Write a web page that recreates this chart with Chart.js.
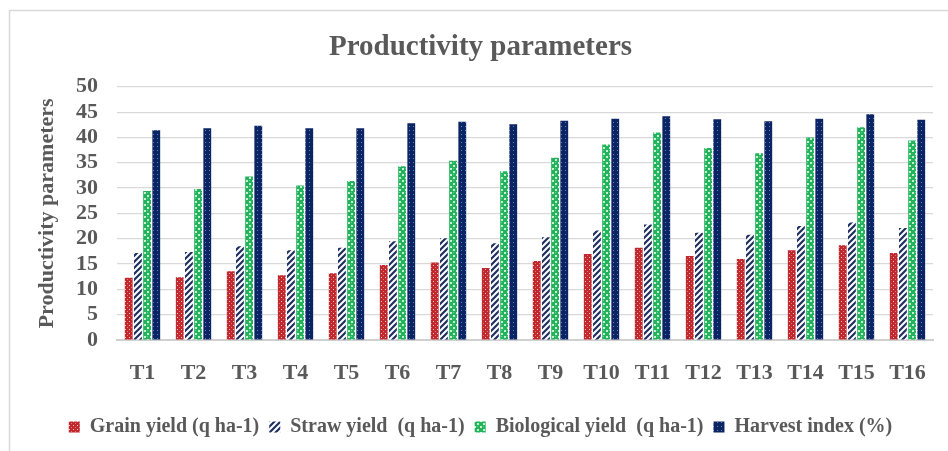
<!DOCTYPE html>
<html>
<head>
<meta charset="utf-8">
<script src="https://cdn.jsdelivr.net/npm/chart.js@4.4.1/dist/chart.umd.min.js"></script>
<style>
  html, body { margin: 0; padding: 0; background: #fff; }
  #wrap { width: 948px; height: 451px; }
</style>
</head>
<body>
<div id="wrap"><canvas id="myChart" width="948" height="451"></canvas></div>
<script>
// data
var treatments = ['T1','T2','T3','T4','T5','T6','T7','T8','T9','T10','T11','T12','T13','T14','T15','T16'];
var grainYield = [12.3, 12.4, 13.6, 12.8, 13.2, 14.8, 15.3, 14.2, 15.6, 17.0, 18.2, 16.6, 16.0, 17.7, 18.7, 17.2];
var strawYield = [17.2, 17.4, 18.5, 17.7, 18.2, 19.5, 20.1, 19.1, 20.3, 21.6, 22.8, 21.2, 20.8, 22.5, 23.2, 22.1];
var bioYield   = [29.4, 29.8, 32.3, 30.5, 31.4, 34.3, 35.4, 33.3, 36.0, 38.6, 41.0, 37.9, 36.9, 40.0, 42.0, 39.4];
var harvestIdx = [41.4, 41.8, 42.3, 41.8, 41.8, 42.8, 43.1, 42.6, 43.3, 43.7, 44.2, 43.6, 43.2, 43.7, 44.6, 43.5];
var yTicks = [0, 5, 10, 15, 20, 25, 30, 35, 40, 45, 50];

var grey = '#595959';
var serif = "'Liberation Serif', 'Times New Roman', serif";

// little fill patterns like the office-style bars
function makePattern(size, draw) {
    var c = document.createElement('canvas');
    c.width = size; c.height = size;
    var g = c.getContext('2d');
    draw(g);
    return document.getElementById('myChart').getContext('2d').createPattern(c, 'repeat');
}

var redDots = makePattern(4, function (g) {
    g.fillStyle = '#C0282D'; g.fillRect(0, 0, 4, 4);
    g.fillStyle = 'rgba(255,220,220,0.9)'; g.fillRect(1, 1, 1, 1);
    g.fillStyle = 'rgba(255,200,200,0.5)'; g.fillRect(3, 3, 1, 1);
});
var navyStripes = makePattern(6, function (g) {
    g.fillStyle = '#ffffff'; g.fillRect(0, 0, 6, 6);
    g.strokeStyle = '#1F2F5F'; g.lineWidth = 2.2;
    g.beginPath();
    g.moveTo(-1, 7); g.lineTo(7, -1);
    g.moveTo(-4, 4); g.lineTo(4, -4);
    g.moveTo(2, 10); g.lineTo(10, 2);
    g.stroke();
});
var greenChecks = makePattern(6, function (g) {
    g.fillStyle = '#22B35C'; g.fillRect(0, 0, 6, 6);
    g.fillStyle = '#C8F0D4'; g.fillRect(0, 0, 2, 2); g.fillRect(3, 3, 2, 2);
    g.fillStyle = '#6FD08E'; g.fillRect(3, 0, 1, 1);
});
var navyDots = makePattern(4, function (g) {
    g.fillStyle = '#0B2463'; g.fillRect(0, 0, 4, 4);
    g.fillStyle = 'rgba(150,170,220,0.7)'; g.fillRect(1, 2, 1, 1);
});

// grey frame around the chart, open to the right and bottom like the crop
var framePlugin = {
    id: 'frame',
    beforeDraw: function (chart) {
        var ctx = chart.ctx;
        ctx.save();
        ctx.fillStyle = '#fff';
        ctx.fillRect(0, 0, chart.width, chart.height);
        ctx.strokeStyle = '#d9d9d9';
        ctx.lineWidth = 1.5;
        ctx.beginPath();
        ctx.moveTo(9.5, chart.height + 2);
        ctx.lineTo(9.5, 10.5);
        ctx.lineTo(chart.width + 2, 10.5);
        ctx.stroke();
        ctx.restore();
    }
};

var ctx = document.getElementById('myChart').getContext('2d');
var myChart = new Chart(ctx, {
    type: 'bar',
    data: {
        labels: treatments,
        datasets: [
            { label: 'Grain yield (q ha-1)', data: grainYield, backgroundColor: redDots, borderWidth: 0 },
            { label: 'Straw yield  (q ha-1)', data: strawYield, backgroundColor: navyStripes, borderWidth: 0 },
            { label: 'Biological yield  (q ha-1)', data: bioYield, backgroundColor: greenChecks, borderWidth: 0 },
            { label: 'Harvest index (%)', data: harvestIdx, backgroundColor: navyDots, borderWidth: 0 }
        ]
    },
    options: {
        responsive: false,
        animation: false,
        layout: { padding: { top: 10, left: 28, right: 15, bottom: 4 } },
        datasets: { bar: { categoryPercentage: 0.72, barPercentage: 0.85 } },
        plugins: {
            title: {
                display: true,
                text: 'Productivity parameters',
                color: grey,
                font: { family: serif, size: 29, weight: 'bold' },
                padding: { top: 20, bottom: 22 }
            },
            legend: {
                position: 'bottom',
                labels: {
                    color: grey,
                    font: { family: serif, size: 20, weight: 'bold' },
                    boxWidth: 11,
                    boxHeight: 11,
                    padding: 10
                }
            },
            tooltip: { enabled: false }
        },
        scales: {
            x: {
                grid: { display: false, drawTicks: false },
                border: { color: '#d0d0d0', width: 2 },
                ticks: { color: grey, padding: 20, font: { family: serif, size: 22, weight: 'bold' } },
                afterFit: function (scale) { scale.height = 67; }
            },
            y: {
                min: 0,
                max: 50,
                afterBuildTicks: function (scale) {
                    scale.ticks = yTicks.map(function (v) { return { value: v }; });
                },
                grid: { color: '#d9d9d9', lineWidth: 1.2, drawTicks: false },
                border: { display: false },
                ticks: {
                    color: grey, padding: 19, autoSkip: false,
                    font: { family: serif, size: 22, weight: 'bold', lineHeight: 1 }
                },
                title: {
                    display: true,
                    text: 'Productivity parameters',
                    color: grey,
                    font: { family: serif, size: 22, weight: 'bold' },
                    padding: { top: 6, bottom: 0 }
                },
                afterFit: function (scale) { scale.width = 89; }
            }
        }
    },
    plugins: [framePlugin]
});
</script>
</body>
</html>
